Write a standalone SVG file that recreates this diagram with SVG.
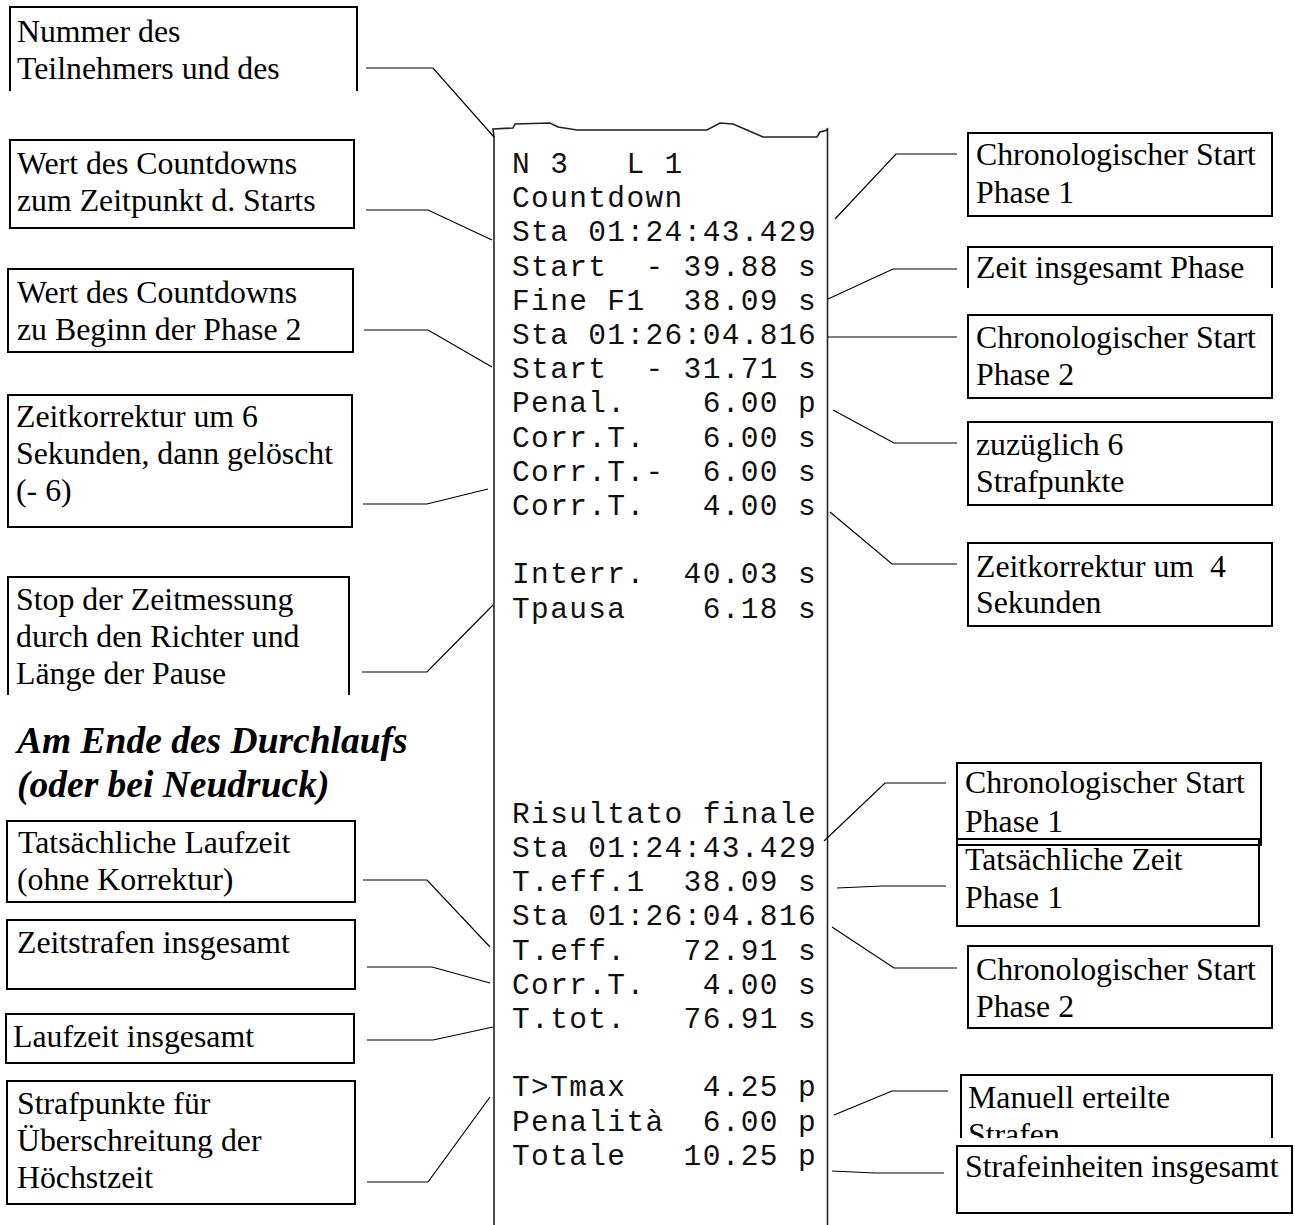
<svg xmlns="http://www.w3.org/2000/svg" width="1295" height="1225" viewBox="0 0 1295 1225">
<style>
.bg{fill:#ffffff}
.box{fill:none;stroke:#000;stroke-width:2}
.c{fill:none;stroke:#000;stroke-width:1.2}
.edge{fill:none;stroke:#222;stroke-width:1.6}
.lbl{font-family:"Liberation Serif","Times New Roman",serif;font-size:31.8px;fill:#000}
.ttl{font-family:"Liberation Serif","Times New Roman",serif;font-size:37.5px;font-weight:bold;font-style:italic;fill:#000}
.mono{font-family:"Liberation Mono","Courier New",monospace;font-size:29.5px;letter-spacing:1.36px;fill:#111}
</style>
<defs>
<clipPath id="clipR9"><rect x="950" y="1070" width="330" height="68"/></clipPath>
</defs>
<rect class="bg" x="0" y="0" width="1295" height="1225"/>

<g id="receipt">
<path class="edge" d="M494,1225 V137 L493,129 L513,128 L515,124 L550,123 L558,127 L577,130 L707,130 L720,123 L733,124 L747,130 L763,137 L817,137 L820,132 L827,130 L827.5,128 V1225"/>
<g class="mono">
<text x="512" y="173">N 3&#160;&#160;&#160;L 1</text>
<text x="512" y="207.2">Countdown</text>
<text x="512" y="241.4">Sta 01:24:43.429</text>
<text x="512" y="275.6">Start&#160;&#160;- 39.88 s</text>
<text x="512" y="309.8">Fine F1&#160;&#160;38.09 s</text>
<text x="512" y="344">Sta 01:26:04.816</text>
<text x="512" y="378.2">Start&#160;&#160;- 31.71 s</text>
<text x="512" y="412.4">Penal.&#160;&#160;&#160;&#160;6.00 p</text>
<text x="512" y="446.6">Corr.T.&#160;&#160;&#160;6.00 s</text>
<text x="512" y="480.8">Corr.T.-&#160;&#160;6.00 s</text>
<text x="512" y="515">Corr.T.&#160;&#160;&#160;4.00 s</text>
<text x="512" y="583.4">Interr.&#160;&#160;40.03 s</text>
<text x="512" y="617.6">Tpausa&#160;&#160;&#160;&#160;6.18 s</text>
<text x="512" y="822.8">Risultato finale</text>
<text x="512" y="857">Sta 01:24:43.429</text>
<text x="512" y="891.2">T.eff.1&#160;&#160;38.09 s</text>
<text x="512" y="925.4">Sta 01:26:04.816</text>
<text x="512" y="959.6">T.eff.&#160;&#160;&#160;72.91 s</text>
<text x="512" y="993.8">Corr.T.&#160;&#160;&#160;4.00 s</text>
<text x="512" y="1028">T.tot.&#160;&#160;&#160;76.91 s</text>
<text x="512" y="1096.4">T&gt;Tmax&#160;&#160;&#160;&#160;4.25 p</text>
<text x="512" y="1130.6">Penalità&#160;&#160;6.00 p</text>
<text x="512" y="1164.8">Totale&#160;&#160;&#160;10.25 p</text>
</g>
</g>

<g id="connectors">
<polyline class="c" points="366,68 433,68 494,137"/>
<polyline class="c" points="366,210 428,210 492,240"/>
<polyline class="c" points="364,330 428,330 492,367"/>
<polyline class="c" points="363,504 427,504 488,489"/>
<polyline class="c" points="362,672 427,672 493,605"/>
<polyline class="c" points="363,880 427,880 490,947"/>
<polyline class="c" points="367,967 432,967 490,983"/>
<polyline class="c" points="367,1040 433,1040 493,1027"/>
<polyline class="c" points="367,1182 428,1182 490,1097"/>
<polyline class="c" points="957,154 896,154 835,219"/>
<polyline class="c" points="957,269 893,269 828,299"/>
<polyline class="c" points="828,337 957,337"/>
<polyline class="c" points="957,443 894,443 833,410"/>
<polyline class="c" points="957,564 892,564 830,512"/>
<polyline class="c" points="946,783 885,783 824,841"/>
<polyline class="c" points="946,886 882,886 837,888"/>
<polyline class="c" points="957,968 894,968 832,927"/>
<polyline class="c" points="948,1091 892,1091 834,1115"/>
<polyline class="c" points="944,1173 875,1173 832,1171"/>
</g>

<g id="title">
<text class="ttl" x="17" y="753">Am Ende des Durchlaufs</text>
<text class="ttl" x="17" y="797">(oder bei Neudruck)</text>
</g>

<g id="n-nummer">
<path class="box" d="M10,91 V7 H357 V91"/>
<text class="lbl" x="17" y="42">Nummer des</text>
<text class="lbl" x="17" y="79">Teilnehmers und des</text>
</g>
<g id="n-countdown-start">
<rect class="box" x="10" y="140" width="344" height="88"/>
<text class="lbl" x="17" y="174">Wert des Countdowns</text>
<text class="lbl" x="17" y="211">zum Zeitpunkt d. Starts</text>
</g>
<g id="n-countdown-phase2">
<rect class="box" x="8" y="269" width="345" height="83"/>
<text class="lbl" x="17" y="303">Wert des Countdowns</text>
<text class="lbl" x="17" y="340">zu Beginn der Phase 2</text>
</g>
<g id="n-korrektur6">
<rect class="box" x="8" y="395" width="344" height="132"/>
<text class="lbl" x="16" y="427">Zeitkorrektur um 6</text>
<text class="lbl" x="16" y="464">Sekunden, dann gelöscht</text>
<text class="lbl" x="16" y="501">(- 6)</text>
</g>
<g id="n-stop">
<path class="box" d="M8,695 V577 H349 V695"/>
<text class="lbl" x="16" y="610">Stop der Zeitmessung</text>
<text class="lbl" x="16" y="647">durch den Richter und</text>
<text class="lbl" x="16" y="684">Länge der Pause</text>
</g>
<g id="n-laufzeit-eff">
<rect class="box" x="7" y="821" width="348" height="81"/>
<text class="lbl" x="18" y="853">Tatsächliche Laufzeit</text>
<text class="lbl" x="17" y="890">(ohne Korrektur)</text>
</g>
<g id="n-zeitstrafen">
<rect class="box" x="7" y="920" width="348" height="69"/>
<text class="lbl" x="17" y="953">Zeitstrafen insgesamt</text>
</g>
<g id="n-laufzeit-tot">
<rect class="box" x="6" y="1014" width="348" height="49"/>
<text class="lbl" x="13" y="1047">Laufzeit insgesamt</text>
</g>
<g id="n-tmax">
<rect class="box" x="7" y="1081" width="348" height="123"/>
<text class="lbl" x="17" y="1114">Strafpunkte für</text>
<text class="lbl" x="17" y="1151">Überschreitung der</text>
<text class="lbl" x="17" y="1188">Höchstzeit</text>
</g>

<g id="r-start1">
<rect class="box" x="968" y="133" width="304" height="83"/>
<text class="lbl" x="976" y="165">Chronologischer Start</text>
<text class="lbl" x="976" y="203">Phase 1</text>
</g>
<g id="r-zeit1">
<path class="box" d="M968,288 V247 H1272 V288"/>
<text class="lbl" x="976" y="278">Zeit insgesamt Phase</text>
</g>
<g id="r-start2">
<rect class="box" x="968" y="315" width="304" height="83"/>
<text class="lbl" x="976" y="348">Chronologischer Start</text>
<text class="lbl" x="976" y="385">Phase 2</text>
</g>
<g id="r-strafpunkte">
<rect class="box" x="968" y="422" width="304" height="83"/>
<text class="lbl" x="976" y="455">zuzüglich 6</text>
<text class="lbl" x="976" y="492">Strafpunkte</text>
</g>
<g id="r-korrektur4">
<rect class="box" x="968" y="543" width="304" height="83"/>
<text class="lbl" x="976" y="577">Zeitkorrektur um&#160; 4</text>
<text class="lbl" x="976" y="613">Sekunden</text>
</g>
<g id="r-start1b">
<rect class="box" x="957" y="763" width="304" height="82"/>
<text class="lbl" x="965" y="793">Chronologischer Start</text>
<text class="lbl" x="965" y="832">Phase 1</text>
</g>
<g id="r-teff1">
<rect class="box" x="957" y="839" width="302" height="87"/>
<text class="lbl" x="965" y="870">Tatsächliche Zeit</text>
<text class="lbl" x="965" y="908">Phase 1</text>
</g>
<g id="r-start2b">
<rect class="box" x="968" y="946" width="304" height="82"/>
<text class="lbl" x="976" y="980">Chronologischer Start</text>
<text class="lbl" x="976" y="1017">Phase 2</text>
</g>
<g id="r-manuell">
<path class="box" d="M961,1138 V1075 H1272 V1138"/>
<g clip-path="url(#clipR9)">
<text class="lbl" x="968" y="1108">Manuell erteilte</text>
<text class="lbl" x="968" y="1145">Strafen</text>
</g>
</g>
<g id="r-strafeinheiten">
<rect class="box" x="957" y="1146" width="335" height="67"/>
<text class="lbl" x="965" y="1177">Strafeinheiten insgesamt</text>
</g>
</svg>
